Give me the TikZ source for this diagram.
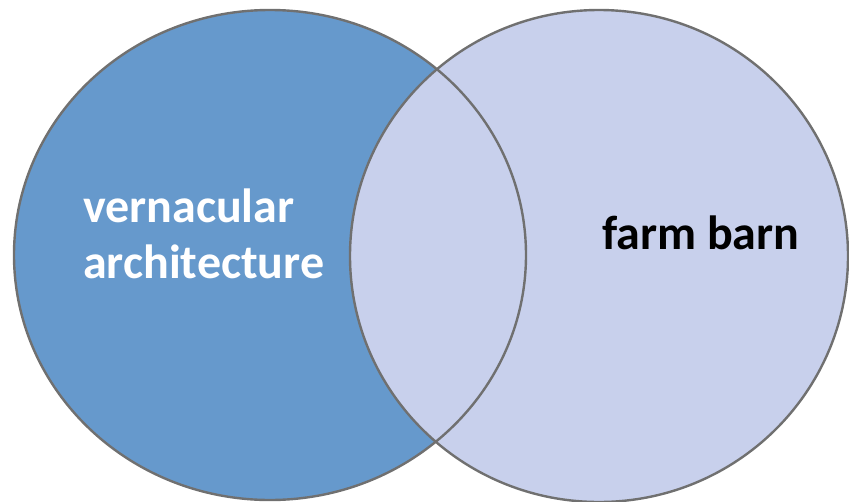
\documentclass[tikz,border=0pt]{standalone}
\usepackage{fontspec}
\setmainfont{Carlito}
\definecolor{leftblue}{RGB}{102,153,204}
\definecolor{rightlav}{RGB}{200,208,236}
\definecolor{rimgray}{RGB}{112,112,112}
\begin{document}
\begin{tikzpicture}[x=1pt,y=-1pt,
  rim/.style={draw=rimgray,line width=2.4pt},
  lbl/.style={font=\bfseries\fontsize{48}{57}\selectfont,inner sep=0pt,anchor=base west}]
\useasboundingbox (0,0) rectangle (849,501);
\fill[leftblue] (270,255) ellipse [x radius=256,y radius=245];
\fill[rightlav] (599,256) ellipse [x radius=249,y radius=246];
\draw[rim] (270,255) ellipse [x radius=256,y radius=245];
\draw[rim] (599,256) ellipse [x radius=249,y radius=246];
\node[lbl,text=white] (vern) at (83,222) {vernacular};
\node[lbl,text=white] (arch) at (83,278) {architecture};
\node[lbl,text=black] (farm) at (602,249) {farm barn};
\end{tikzpicture}
\end{document}
